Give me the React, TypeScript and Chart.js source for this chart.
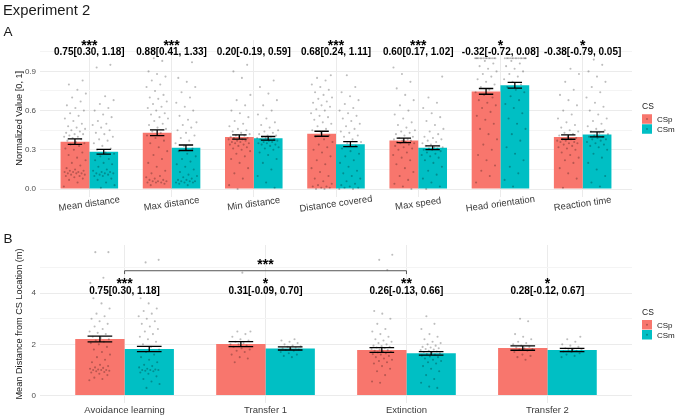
import React, { useEffect, useRef } from 'react';
import { Chart, registerables } from 'chart.js';

Chart.register(...registerables);

const FONT = '"Liberation Sans", Arial, Helvetica, sans-serif';
const CSP_COLOR = '#F8766D';
const CSM_COLOR = '#00BFC4';
const SERIES_NAMES = ['CSp', 'CSm'];

// ---------- Panel A: normalized measures ----------
const measureCategories = ['Mean distance', 'Max distance', 'Min distance', 'Distance covered', 'Max speed', 'Head orientation', 'Reaction time'];
const measureCSp = [0.362, 0.430, 0.398, 0.423, 0.372, 0.747, 0.398];
const measureCSm = [0.285, 0.316, 0.388, 0.343, 0.316, 0.794, 0.418];
const measureCSpSE = [0.021, 0.022, 0.016, 0.019, 0.017, 0.022, 0.017];
const measureCSmSE = [0.018, 0.021, 0.014, 0.019, 0.014, 0.022, 0.019];
const measureStars = ['***', '***', '', '***', '***', '*', '*'];
const measureEffects = ['0.75[0.30, 1.18]', '0.88[0.41, 1.33]', '0.20[-0.19, 0.59]', '0.68[0.24, 1.11]', '0.60[0.17, 1.02]', '-0.32[-0.72, 0.08]', '-0.38[-0.79, 0.05]'];
const measureTicks = [0, 0.3, 0.6, 0.9];
const measureGrid = [0, 0.15, 0.3, 0.45, 0.6, 0.75, 0.9, 1.05];

const measurePointsCSp = [
  [0.02, 0.05, 0.07, 0.08, 0.09, 0.1, 0.1, 0.11, 0.11, 0.12, 0.12, 0.12, 0.13, 0.13, 0.13, 0.14, 0.14, 0.15, 0.16, 0.18, 0.2, 0.22, 0.24, 0.26, 0.28, 0.3, 0.31, 0.33, 0.34, 0.35, 0.36, 0.37, 0.38, 0.39, 0.4, 0.4, 0.41, 0.42, 0.42, 0.43, 0.44, 0.45, 0.46, 0.47, 0.48, 0.5, 0.52, 0.54, 0.56, 0.58, 0.6, 0.62, 0.64, 0.67, 0.7, 0.73, 0.76, 0.8, 0.83],
  [0.03, 0.04, 0.05, 0.05, 0.05, 0.06, 0.06, 0.06, 0.07, 0.07, 0.08, 0.09, 0.1, 0.12, 0.14, 0.17, 0.2, 0.23, 0.26, 0.29, 0.32, 0.35, 0.37, 0.39, 0.41, 0.43, 0.44, 0.46, 0.47, 0.49, 0.5, 0.52, 0.54, 0.55, 0.57, 0.58, 0.6, 0.62, 0.63, 0.65, 0.67, 0.69, 0.7, 0.72, 0.75, 0.78, 0.8, 0.83, 0.86, 0.88, 0.9, 0.98, 1.0],
  [0.0, 0.03, 0.08, 0.12, 0.16, 0.2, 0.23, 0.25, 0.27, 0.29, 0.3, 0.31, 0.32, 0.33, 0.34, 0.34, 0.35, 0.35, 0.36, 0.36, 0.37, 0.37, 0.38, 0.38, 0.39, 0.39, 0.4, 0.4, 0.41, 0.41, 0.42, 0.43, 0.44, 0.45, 0.46, 0.48, 0.5, 0.52, 0.55, 0.58, 0.6, 0.64, 0.68, 0.72, 0.85, 0.9, 0.95],
  [0.0, 0.0, 0.01, 0.01, 0.02, 0.02, 0.03, 0.04, 0.06, 0.08, 0.1, 0.13, 0.16, 0.19, 0.22, 0.25, 0.28, 0.3, 0.32, 0.34, 0.36, 0.38, 0.4, 0.41, 0.43, 0.45, 0.46, 0.48, 0.5, 0.51, 0.53, 0.55, 0.56, 0.58, 0.6, 0.61, 0.63, 0.64, 0.66, 0.67, 0.69, 0.7, 0.72, 0.74, 0.76, 0.78, 0.8, 0.83, 0.85, 0.87],
  [0.0, 0.02, 0.04, 0.07, 0.1, 0.13, 0.16, 0.19, 0.22, 0.24, 0.26, 0.28, 0.3, 0.31, 0.32, 0.33, 0.34, 0.35, 0.35, 0.36, 0.36, 0.37, 0.37, 0.38, 0.38, 0.39, 0.4, 0.41, 0.42, 0.43, 0.44, 0.45, 0.47, 0.49, 0.51, 0.54, 0.57, 0.6, 0.64, 0.68, 0.72, 0.77, 0.82, 0.88, 0.93],
  [0.05, 0.1, 0.14, 0.18, 0.22, 0.26, 0.3, 0.34, 0.38, 0.42, 0.46, 0.5, 0.53, 0.56, 0.59, 0.62, 0.64, 0.66, 0.68, 0.7, 0.72, 0.74, 0.76, 0.78, 0.8, 0.82, 0.84, 0.86, 0.88, 0.9, 0.92, 0.94, 0.96, 0.98, 1, 1, 1, 1, 1, 1, 1, 1, 1, 1, 1, 1, 1, 1],
  [0.01, 0.08, 0.12, 0.16, 0.2, 0.22, 0.24, 0.26, 0.28, 0.3, 0.31, 0.32, 0.33, 0.34, 0.35, 0.35, 0.36, 0.36, 0.37, 0.37, 0.38, 0.38, 0.39, 0.4, 0.41, 0.42, 0.43, 0.44, 0.45, 0.47, 0.49, 0.51, 0.54, 0.57, 0.6, 0.64, 0.68, 0.72, 0.76, 0.82, 0.88, 0.92],
];
const measurePointsCSm = [
  [0.01, 0.03, 0.05, 0.07, 0.08, 0.1, 0.1, 0.11, 0.11, 0.12, 0.12, 0.12, 0.13, 0.13, 0.14, 0.15, 0.17, 0.19, 0.2, 0.22, 0.23, 0.25, 0.27, 0.28, 0.3, 0.31, 0.33, 0.35, 0.37, 0.38, 0.4, 0.42, 0.43, 0.45, 0.47, 0.49, 0.5, 0.52, 0.55, 0.57, 0.6, 0.62, 0.65, 0.68, 0.71, 0.93, 0.95],
  [0.03, 0.04, 0.05, 0.05, 0.05, 0.06, 0.06, 0.06, 0.07, 0.07, 0.08, 0.09, 0.1, 0.11, 0.13, 0.15, 0.17, 0.19, 0.21, 0.23, 0.25, 0.27, 0.29, 0.31, 0.33, 0.35, 0.37, 0.39, 0.41, 0.43, 0.45, 0.47, 0.49, 0.51, 0.53, 0.56, 0.6, 0.63, 0.66, 0.7, 0.74, 0.78, 0.82, 0.85, 0.97],
  [0.01, 0.05, 0.1, 0.15, 0.2, 0.23, 0.26, 0.28, 0.3, 0.31, 0.32, 0.33, 0.34, 0.34, 0.35, 0.35, 0.36, 0.36, 0.37, 0.37, 0.38, 0.38, 0.39, 0.39, 0.4, 0.4, 0.41, 0.41, 0.42, 0.43, 0.44, 0.45, 0.47, 0.49, 0.51, 0.54, 0.57, 0.6, 0.64, 0.68, 0.73, 0.78, 0.83],
  [0.0, 0.0, 0.01, 0.01, 0.02, 0.03, 0.04, 0.06, 0.08, 0.1, 0.12, 0.14, 0.17, 0.2, 0.22, 0.25, 0.27, 0.29, 0.31, 0.33, 0.35, 0.36, 0.38, 0.4, 0.41, 0.43, 0.44, 0.46, 0.48, 0.5, 0.52, 0.54, 0.56, 0.58, 0.6, 0.62, 0.65, 0.68, 0.71, 0.74, 0.78, 0.87],
  [0.0, 0.02, 0.05, 0.08, 0.11, 0.14, 0.17, 0.2, 0.22, 0.24, 0.25, 0.26, 0.27, 0.28, 0.29, 0.3, 0.3, 0.31, 0.31, 0.32, 0.32, 0.33, 0.33, 0.34, 0.35, 0.36, 0.37, 0.38, 0.39, 0.4, 0.42, 0.44, 0.46, 0.49, 0.52, 0.55, 0.58, 0.62, 0.66, 0.7, 0.86],
  [0.02, 0.07, 0.12, 0.17, 0.22, 0.27, 0.32, 0.37, 0.42, 0.46, 0.5, 0.54, 0.58, 0.62, 0.65, 0.68, 0.71, 0.74, 0.76, 0.78, 0.8, 0.82, 0.84, 0.86, 0.88, 0.9, 0.92, 0.94, 0.96, 0.98, 1, 1, 1, 1, 1, 1, 1, 1, 1, 1, 1, 1, 1, 1],
  [0.02, 0.05, 0.1, 0.15, 0.2, 0.24, 0.27, 0.3, 0.32, 0.33, 0.34, 0.35, 0.36, 0.37, 0.38, 0.38, 0.39, 0.4, 0.4, 0.41, 0.42, 0.43, 0.44, 0.45, 0.46, 0.48, 0.5, 0.52, 0.54, 0.57, 0.6, 0.63, 0.66, 0.7, 0.74, 0.78, 0.82, 0.86, 0.9, 0.95, 0.99],
];

// ---------- Panel B: mean distance by phase ----------
const phaseCategories = ['Avoidance learning', 'Transfer 1', 'Extinction', 'Transfer 2'];
const phaseCSp = [2.21, 2.01, 1.78, 1.855];
const phaseCSm = [1.82, 1.84, 1.65, 1.78];
const phaseCSpSE = [0.11, 0.1, 0.09, 0.085];
const phaseCSmSE = [0.1, 0.06, 0.07, 0.06];
const phaseStars = ['***', '*', '**', '*'];
const phaseEffects = ['0.75[0.30, 1.18]', '0.31[-0.09, 0.70]', '0.26[-0.13, 0.66]', '0.28[-0.12, 0.67]'];
const phaseTicks = [0, 2, 4];
const phaseGrid = [0, 1, 2, 3, 4, 5];
const phaseBracketLabel = '***';

const phasePointsCSp = [
  [0.6, 0.65, 0.7, 0.8, 0.85, 0.9, 0.92, 0.95, 0.97, 1.0, 1.0, 1.0, 1.02, 1.05, 1.08, 1.1, 1.15, 1.2, 1.3, 1.4, 1.5, 1.6, 1.7, 1.8, 1.9, 2.0, 2.05, 2.1, 2.15, 2.2, 2.25, 2.3, 2.4, 2.45, 2.5, 2.6, 2.7, 2.8, 2.9, 3.0, 3.1, 3.2, 3.4, 3.6, 3.8, 4.0, 4.2, 4.4, 4.6, 5.6, 5.6],
  [1.3, 1.45, 1.5, 1.6, 1.7, 1.75, 1.8, 1.85, 1.9, 1.95, 2.0, 2.0, 2.05, 2.1, 2.15, 2.2, 2.3, 2.4, 2.5, 2.5, 4.8],
  [0.5, 0.55, 0.8, 0.95, 1.05, 1.15, 1.25, 1.3, 1.35, 1.4, 1.45, 1.5, 1.55, 1.6, 1.62, 1.65, 1.68, 1.7, 1.72, 1.75, 1.78, 1.8, 1.82, 1.85, 1.88, 1.9, 1.93, 1.95, 2.0, 2.05, 2.1, 2.15, 2.2, 2.3, 2.4, 2.5, 2.6, 2.8, 3.0, 3.2, 3.3, 4.9, 5.3, 5.5],
  [1.4, 1.5, 1.55, 1.6, 1.7, 1.75, 1.8, 1.82, 1.85, 1.88, 1.9, 1.95, 2.0, 2.05, 2.1, 2.2, 2.3, 2.4, 2.9, 3.0],
];
const phasePointsCSm = [
  [0.3, 0.45, 0.55, 0.65, 0.75, 0.85, 0.9, 0.95, 0.97, 1.0, 1.0, 1.0, 1.02, 1.05, 1.1, 1.15, 1.2, 1.3, 1.4, 1.5, 1.6, 1.7, 1.8, 1.9, 2.0, 2.1, 2.2, 2.3, 2.4, 2.5, 2.6, 2.7, 2.8, 2.9, 3.0, 3.1, 3.2, 3.3, 3.4, 3.6, 3.8, 4.0, 5.2, 5.3],
  [1.5, 1.55, 1.6, 1.65, 1.7, 1.75, 1.78, 1.8, 1.82, 1.85, 1.87, 1.9, 1.92, 1.95, 2.0, 2.05, 2.1, 2.15, 2.2],
  [0.3, 0.35, 0.5, 0.65, 0.8, 0.95, 1.05, 1.15, 1.25, 1.3, 1.35, 1.4, 1.45, 1.5, 1.53, 1.56, 1.6, 1.62, 1.65, 1.68, 1.7, 1.72, 1.75, 1.78, 1.8, 1.82, 1.85, 1.88, 1.9, 1.95, 2.0, 2.05, 2.1, 2.2, 2.3, 2.4, 2.6, 2.8, 3.1],
  [1.5, 1.55, 1.6, 1.65, 1.7, 1.72, 1.75, 1.78, 1.8, 1.82, 1.85, 1.9, 1.95, 2.0, 2.1, 2.2, 2.3],
];

type PanelSpec = {
  categories: string[];
  csp: number[];
  csm: number[];
  cspSE: number[];
  csmSE: number[];
  pointsCSp: number[][];
  pointsCSm: number[][];
  stars: string[];
  effects: string[];
  ticks: number[];
  grid: number[];
  tickDigits: number;
  yMin: number;
  yMax: number;
  yTitle: string;
  labelAngle: number;
  labelOffset: number;
  jitter: number;
  starY: number;
  effectY: number;
  padding: { left: number; right: number; top: number; bottom: number };
  bracket?: { from: number; to: number; y: number; drop: number; labelY: number; label: string };
};

const panelA: PanelSpec = {
  categories: measureCategories,
  csp: measureCSp,
  csm: measureCSm,
  cspSE: measureCSpSE,
  csmSE: measureCSmSE,
  pointsCSp: measurePointsCSp,
  pointsCSm: measurePointsCSm,
  stars: measureStars,
  effects: measureEffects,
  ticks: measureTicks,
  grid: measureGrid,
  tickDigits: 1,
  yMin: -0.057,
  yMax: 1.14,
  yTitle: 'Normalized Value [0, 1]',
  labelAngle: 8,
  labelOffset: 7.5,
  jitter: 0.135,
  starY: 1.06,
  effectY: 1.029,
  padding: { left: 40, right: 46, top: 40, bottom: 28.5 },
};

const panelB: PanelSpec = {
  categories: phaseCategories,
  csp: phaseCSp,
  csm: phaseCSm,
  cspSE: phaseCSpSE,
  csmSE: phaseCSmSE,
  pointsCSp: phasePointsCSp,
  pointsCSm: phasePointsCSm,
  stars: phaseStars,
  effects: phaseEffects,
  ticks: phaseTicks,
  grid: phaseGrid,
  tickDigits: 0,
  yMin: -0.29,
  yMax: 5.88,
  yTitle: 'Mean Distance from CS Location (m)',
  labelAngle: 0,
  labelOffset: 7,
  jitter: 0.075,
  starY: 4.22,
  effectY: 3.95,
  padding: { left: 40, right: 46, top: 20, bottom: 14 },
  bracket: { from: 1, to: 3, y: 4.875, drop: 0.13, labelY: 4.94, label: phaseBracketLabel },
};

// Spread each group's points across its bar with a fixed low-discrepancy offset.
function jitterPoints(groups: number[][], series: number, width: number) {
  const out: { x: number; y: number }[] = [];
  groups.forEach((vals, g) => {
    const center = g + 1 + (series === 0 ? -0.175 : 0.175);
    vals.forEach((v, j) => {
      const frac = (j * 0.6180339887 + 0.37 * series + 0.21 * g) % 1;
      out.push({ x: center + (frac - 0.5) * 2 * width, y: v });
    });
  });
  return out;
}

function makeDecor(spec: PanelSpec) {
  return {
    id: 'panelDecor',
    afterDatasetsDraw(chart: any) {
      const ctx = chart.ctx;
      const ys = chart.scales.y;
      [0, 1].forEach((s) => {
        const meta = chart.getDatasetMeta(s);
        const means = s === 0 ? spec.csp : spec.csm;
        const se = s === 0 ? spec.cspSE : spec.csmSE;
        meta.data.forEach((bar: any, i: number) => {
          const { x, width } = bar.getProps(['x', 'width'], true);
          const half = width / 4;
          const top = ys.getPixelForValue(means[i] + se[i]);
          const bot = ys.getPixelForValue(means[i] - se[i]);
          ctx.save();
          ctx.strokeStyle = '#000';
          ctx.lineWidth = 1.3;
          ctx.beginPath();
          ctx.moveTo(x, top);
          ctx.lineTo(x, bot);
          ctx.moveTo(x - half, top);
          ctx.lineTo(x + half, top);
          ctx.moveTo(x - half, bot);
          ctx.lineTo(x + half, bot);
          ctx.stroke();
          ctx.restore();
        });
      });
    },
    afterDraw(chart: any) {
      const ctx = chart.ctx;
      const area = chart.chartArea;
      const xs = chart.scales.x;
      const ys = chart.scales.y;
      ctx.save();

      // y tick labels
      ctx.fillStyle = '#4d4d4d';
      ctx.font = `8px ${FONT}`;
      ctx.textAlign = 'right';
      ctx.textBaseline = 'middle';
      spec.ticks.forEach((v) => {
        ctx.fillText(v.toFixed(spec.tickDigits), area.left - 4, ys.getPixelForValue(v));
      });

      // y axis title
      ctx.save();
      ctx.translate(area.left - 18, (area.top + area.bottom) / 2);
      ctx.rotate(-Math.PI / 2);
      ctx.fillStyle = '#1a1a1a';
      ctx.font = `9.2px ${FONT}`;
      ctx.textAlign = 'center';
      ctx.textBaseline = 'alphabetic';
      ctx.fillText(spec.yTitle, 0, 0);
      ctx.restore();

      // category labels
      ctx.fillStyle = '#3a3a3a';
      ctx.font = `9.5px ${FONT}`;
      ctx.textAlign = 'center';
      ctx.textBaseline = 'middle';
      spec.categories.forEach((label, i) => {
        ctx.save();
        ctx.translate(xs.getPixelForValue(i + 1), area.bottom + spec.labelOffset);
        ctx.rotate((-spec.labelAngle * Math.PI) / 180);
        ctx.fillText(label, 0, 0);
        ctx.restore();
      });

      // significance stars and effect sizes
      ctx.fillStyle = '#000';
      ctx.textAlign = 'center';
      ctx.textBaseline = 'alphabetic';
      spec.categories.forEach((_, i) => {
        const cx = xs.getPixelForValue(i + 1);
        if (spec.stars[i]) {
          ctx.font = `bold 14px ${FONT}`;
          ctx.fillText(spec.stars[i], cx, ys.getPixelForValue(spec.starY));
        }
        ctx.font = `bold 10px ${FONT}`;
        ctx.fillText(spec.effects[i], cx, ys.getPixelForValue(spec.effectY));
      });

      // comparison bracket
      if (spec.bracket) {
        const b = spec.bracket;
        const x1 = xs.getPixelForValue(b.from);
        const x2 = xs.getPixelForValue(b.to);
        const yl = ys.getPixelForValue(b.y);
        const yd = ys.getPixelForValue(b.y - b.drop);
        ctx.strokeStyle = '#555';
        ctx.lineWidth = 1;
        ctx.beginPath();
        ctx.moveTo(x1, yd);
        ctx.lineTo(x1, yl);
        ctx.lineTo(x2, yl);
        ctx.lineTo(x2, yd);
        ctx.stroke();
        ctx.fillStyle = '#000';
        ctx.font = `bold 14px ${FONT}`;
        ctx.fillText(b.label, (x1 + x2) / 2, ys.getPixelForValue(b.labelY));
      }

      // legend
      const lx = area.right + 10;
      const mid = (area.top + area.bottom) / 2;
      const titleBase = mid - 9;
      ctx.fillStyle = '#1a1a1a';
      ctx.font = `8.5px ${FONT}`;
      ctx.textAlign = 'left';
      ctx.textBaseline = 'alphabetic';
      ctx.fillText('CS', lx, titleBase);
      [CSP_COLOR, CSM_COLOR].forEach((color, k) => {
        const top = titleBase + 5 + k * 10;
        ctx.fillStyle = color;
        ctx.fillRect(lx, top, 10, 9.5);
        ctx.fillStyle = 'rgba(0,0,0,0.3)';
        ctx.beginPath();
        ctx.arc(lx + 5, top + 4.75, 0.9, 0, Math.PI * 2);
        ctx.fill();
        ctx.fillStyle = '#1a1a1a';
        ctx.font = `8px ${FONT}`;
        ctx.fillText(SERIES_NAMES[k], lx + 15, top + 7.8);
      });

      ctx.restore();
    },
  };
}

function buildChart(canvas: HTMLCanvasElement, spec: PanelSpec) {
  const xs = spec.categories.map((_, i) => i + 1);
  const gridColor = (c: any) => {
    const v = c.tick ? c.tick.value : 0;
    const major = spec.ticks.some((t) => Math.abs(t - v) < 1e-9);
    return major ? '#EBEBEB' : '#F4F4F4';
  };
  const pointStyle = {
    backgroundColor: 'rgba(0,0,0,0.26)',
    borderWidth: 0,
    pointRadius: 1.05,
    order: 1,
  };
  return new Chart(canvas, {
    type: 'scatter',
    data: {
      datasets: [
        {
          type: 'bar',
          label: 'CSp',
          data: xs.map((x, i) => ({ x, y: spec.csp[i] })),
          backgroundColor: CSP_COLOR,
          borderWidth: 0,
          categoryPercentage: 0.7,
          barPercentage: 1,
          order: 2,
        } as any,
        {
          type: 'bar',
          label: 'CSm',
          data: xs.map((x, i) => ({ x, y: spec.csm[i] })),
          backgroundColor: CSM_COLOR,
          borderWidth: 0,
          categoryPercentage: 0.7,
          barPercentage: 1,
          order: 2,
        } as any,
        { type: 'scatter', label: 'CSp points', data: jitterPoints(spec.pointsCSp, 0, spec.jitter), ...pointStyle },
        { type: 'scatter', label: 'CSm points', data: jitterPoints(spec.pointsCSm, 1, spec.jitter), ...pointStyle },
      ],
    },
    options: {
      responsive: false,
      animation: false,
      events: [],
      layout: { padding: spec.padding },
      plugins: { legend: { display: false }, tooltip: { enabled: false } },
      scales: {
        x: {
          type: 'linear',
          min: 0.4,
          max: spec.categories.length + 0.6,
          offset: false,
          afterBuildTicks: (axis: any) => {
            axis.ticks = xs.map((v) => ({ value: v }));
          },
          ticks: { display: false },
          grid: { color: '#EBEBEB', lineWidth: 1, drawTicks: false, offset: false },
          border: { display: false },
        },
        y: {
          type: 'linear',
          min: spec.yMin,
          max: spec.yMax,
          afterBuildTicks: (axis: any) => {
            axis.ticks = spec.grid.map((v) => ({ value: v }));
          },
          ticks: { display: false },
          grid: { color: gridColor, lineWidth: 1, drawTicks: false },
          border: { display: false },
        },
      },
    },
    plugins: [makeDecor(spec)],
  } as any);
}

function Panel({ spec, top, height }: { spec: PanelSpec; top: number; height: number }) {
  const ref = useRef<HTMLCanvasElement | null>(null);
  useEffect(() => {
    if (!ref.current) return;
    const chart = buildChart(ref.current, spec);
    return () => chart.destroy();
  }, [spec]);
  return (
    <canvas
      ref={ref}
      width={678}
      height={height}
      style={{ position: 'absolute', left: 0, top, width: 678, height, display: 'block' }}
    />
  );
}

const labelStyle: React.CSSProperties = {
  position: 'absolute',
  fontFamily: FONT,
  color: '#1a1a1a',
  lineHeight: 1,
  whiteSpace: 'nowrap',
  margin: 0,
};

export default function App() {
  return (
    <div style={{ position: 'fixed', left: 0, top: 0, width: 678, height: 417, background: '#fff', overflow: 'hidden' }}>
      <Panel spec={panelA} top={0} height={225} />
      <Panel spec={panelB} top={225} height={192} />
      <div style={{ ...labelStyle, left: 3, top: 2.8, fontSize: 14.8 }}>Experiment 2</div>
      <div style={{ ...labelStyle, left: 3.5, top: 25.3, fontSize: 13.5 }}>A</div>
      <div style={{ ...labelStyle, left: 3.5, top: 231.9, fontSize: 13.5 }}>B</div>
    </div>
  );
}
